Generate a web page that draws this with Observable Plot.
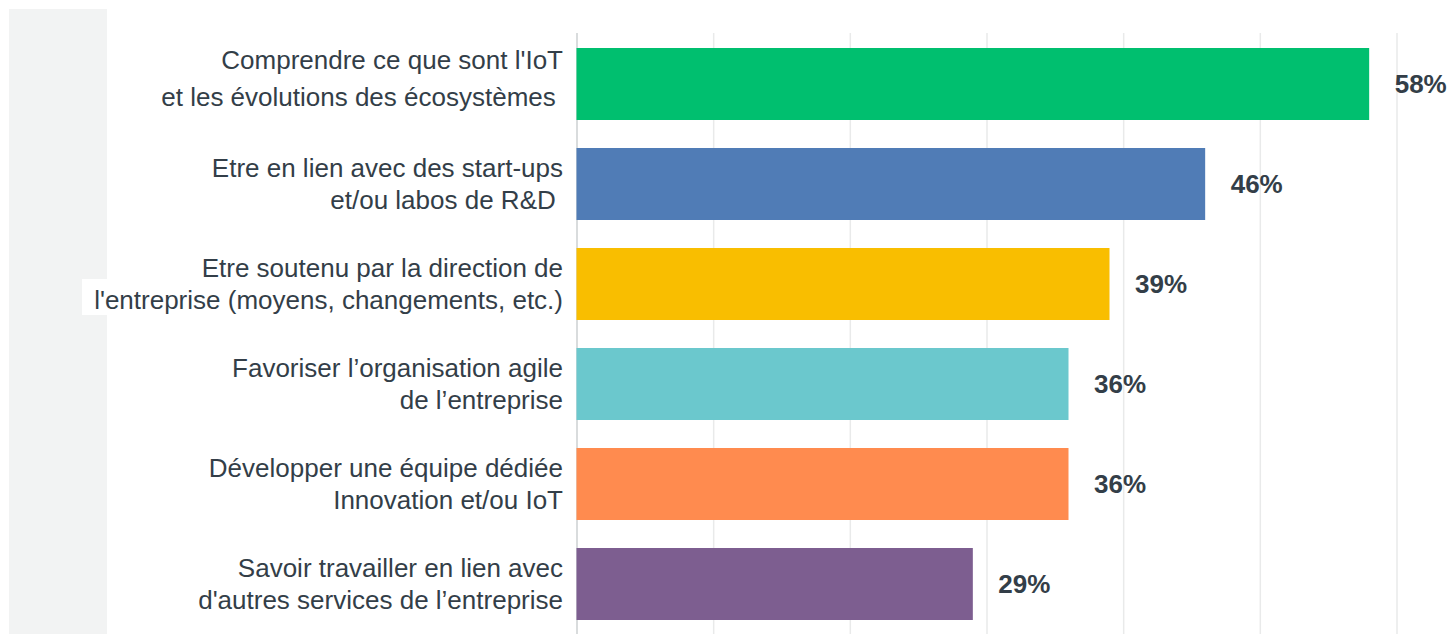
<!DOCTYPE html>
<html>
<head>
<meta charset="utf-8">
<script src="https://cdn.jsdelivr.net/npm/d3@7"></script>
<script src="https://cdn.jsdelivr.net/npm/@observablehq/plot@0.6"></script>
<style>
  html, body { margin: 0; padding: 0; background: #ffffff; }
  #wrap { position: relative; width: 1453px; height: 634px; overflow: hidden; }
  #strip { position: absolute; left: 9px; top: 9px; width: 98px; height: 625px; background: #f2f3f3; }
  #patch { position: absolute; left: 82px; top: 279px; width: 30px; height: 36px; background: #ffffff; }
  #chart { position: absolute; left: 0; top: 0; }
</style>
</head>
<body>
<div id="wrap">
  <div id="strip"></div>
  <div id="patch"></div>
  <div id="chart"></div>
</div>
<script>
// ---- data ----
const categories = [
  "Comprendre ce que sont l'IoT\net les évolutions des écosystèmes ",
  "Etre en lien avec des start-ups\net/ou labos de R&D ",
  "Etre soutenu par la direction de\nl'entreprise (moyens, changements, etc.)",
  "Favoriser l’organisation agile\nde l’entreprise",
  "Développer une équipe dédiée\nInnovation et/ou IoT",
  "Savoir travailler en lien avec\nd'autres services de l’entreprise"
];
const values = [58, 46, 39, 36, 36, 29];
const gridTicks = [10, 20, 30, 40, 50, 60];
const barColors = ["#00bf6f", "#507cb6", "#f9be00", "#6bc8cd", "#ff8b4f", "#7d5e90"];

const rows = categories.map((c, i) => ({category: c, value: values[i]}));
const firstRow = rows.slice(0, 1);
const otherRows = rows.slice(1);

const labelStyle = {
  y: "category", frameAnchor: "left",
  text: "category",
  textAnchor: "end", dx: -14,
  fontSize: 26, fill: "#333e48"
};

const chart = Plot.plot({
  width: 1453,
  height: 634,
  marginTop: 33,
  marginBottom: 0,
  marginLeft: 576.5,
  marginRight: 56.5,
  style: {background: "transparent", fontFamily: "'Liberation Sans', Arial, sans-serif", overflow: "visible"},
  x: {domain: [0, 60], axis: null},
  y: {domain: categories, axis: null, paddingInner: 0.28, paddingOuter: 0.14, align: 0.5},
  color: {domain: categories, range: barColors},
  marks: [
    Plot.ruleX(gridTicks, {stroke: "#e9eaea", strokeWidth: 1.5}),
    Plot.ruleX([0], {stroke: "#cdd0d2", strokeWidth: 1.5}),
    Plot.barX(rows, {x: "value", y: "category", fill: "category"}),
    Plot.text(rows, {
      x: "value", y: "category",
      text: d => d.value + "%",
      textAnchor: "start", dx: 25,
      fontSize: 26, fontWeight: "bold", fill: "#333e48"
    }),
    Plot.text(firstRow, {...labelStyle, lineHeight: 1.42, dy: -9}),
    Plot.text(otherRows, {...labelStyle, lineHeight: 1.22, dy: -2})
  ]
});
document.getElementById("chart").appendChild(chart);
</script>
</body>
</html>
